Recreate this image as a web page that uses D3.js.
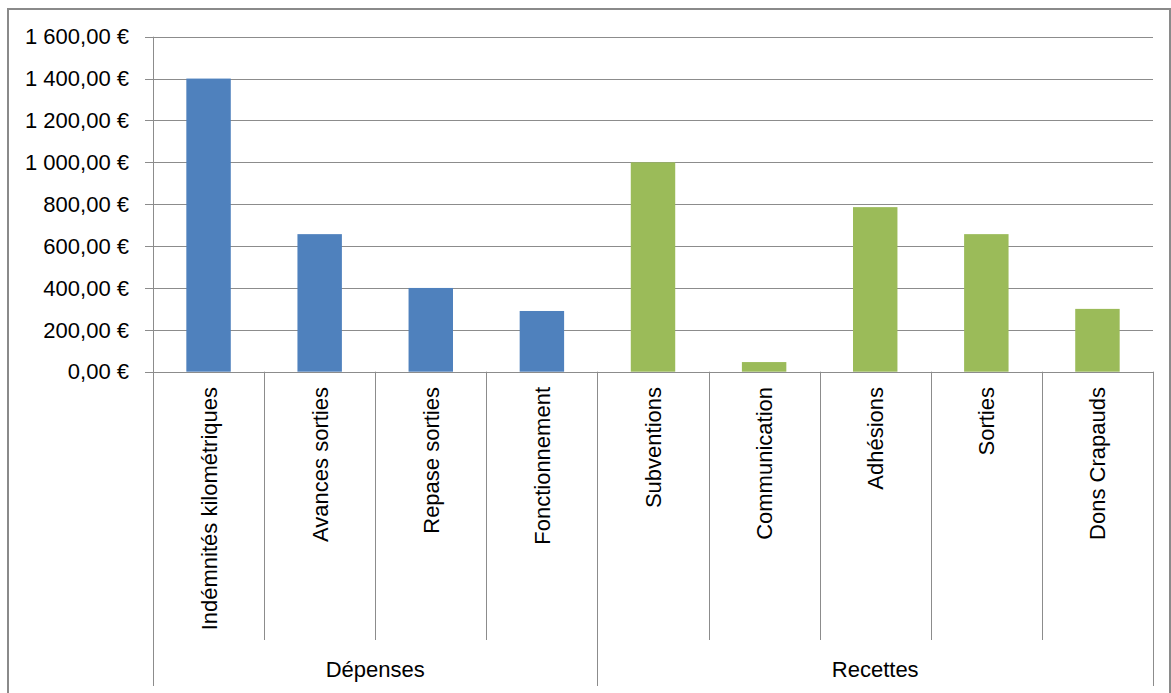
<!DOCTYPE html>
<html>
<head>
<meta charset="utf-8">
<script src="https://cdn.jsdelivr.net/npm/d3@7"></script>
<style>
  body { margin: 0; background: #fff; }
  text { font-family: "Liberation Sans", Arial, sans-serif; fill: #000; }
</style>
</head>
<body>
<div class="chart"></div>
<script>
// categories grouped under two headings
const categories = ["Indémnités kilométriques", "Avances sorties", "Repase sorties", "Fonctionnement",
    "Subventions", "Communication", "Adhésions", "Sorties", "Dons Crapauds"];
const groups = ["Dépenses", "Dépenses", "Dépenses", "Dépenses",
    "Recettes", "Recettes", "Recettes", "Recettes", "Recettes"];
const values = [1400, 657, 400, 290, 1000, 46, 786, 657, 300];
const yTicks = [0, 200, 400, 600, 800, 1000, 1200, 1400, 1600];

const width = 1171, height = 693;
const plotLeft = 153, plotRight = 1153, plotTop = 36.7, plotZero = 371.7;
const fontSize = 22;

const svg = d3.select(".chart").append("svg")
    .attr("width", width)
    .attr("height", height);

// outer chart frame
svg.append("rect")
    .attr("x", 8).attr("y", 9)
    .attr("width", 1162).attr("height", 700)
    .attr("fill", "white")
    .attr("stroke", "#8a8a8a")
    .attr("stroke-width", 2);

const x = d3.scaleBand()
    .domain(categories)
    .range([plotLeft, plotRight])
    .paddingInner(0)
    .paddingOuter(0);

const y = d3.scaleLinear()
    .domain([0, 1600])
    .range([plotZero, plotTop]);

const euro = (v) => {
    const s = d3.format(",.2f")(v);
    return s.replace(/,/g, " ").replace(".", ",") + " €";
};

//gridlines
svg.append("g")
    .selectAll("line")
    .data(yTicks)
    .enter().append("line")
    .attr("x1", plotLeft - 8)
    .attr("x2", plotRight)
    .attr("y1", d => Math.round(y(d)) + 0.5)
    .attr("y2", d => Math.round(y(d)) + 0.5)
    .attr("stroke", "#8c8c8c")
    .attr("stroke-width", 1);

svg.append("g")
    .selectAll("text")
    .data(yTicks)
    .enter().append("text")
    .attr("x", 129)
    .attr("y", d => y(d))
    .attr("dy", "0.35em")
    .attr("text-anchor", "end")
    .attr("font-size", fontSize)
    .text(euro);

// bars
const barW = x.bandwidth() * 0.4;
svg.append("g")
    .selectAll("rect")
    .data(values)
    .enter().append("rect")
    .attr("x", (d, i) => x(categories[i]) + (x.bandwidth() - barW) / 2)
    .attr("y", d => y(d))
    .attr("width", barW)
    .attr("height", d => plotZero - y(d))
    .attr("fill", (d, i) => groups[i] === "Dépenses" ? "#4f81bd" : "#9bbb59");

// vertical axis line
svg.append("line")
    .attr("x1", plotLeft + 0.5).attr("x2", plotLeft + 0.5)
    .attr("y1", plotTop).attr("y2", 686)
    .attr("stroke", "#8c8c8c");

// category separators, longer where the group changes
svg.append("g")
    .selectAll("line")
    .data(categories.slice(1))
    .enter().append("line")
    .attr("x1", d => Math.round(x(d)) + 0.5)
    .attr("x2", d => Math.round(x(d)) + 0.5)
    .attr("y1", plotZero)
    .attr("y2", d => groups[categories.indexOf(d)] !== groups[categories.indexOf(d) - 1] ? 686 : 640)
    .attr("stroke", "#8c8c8c");

svg.append("line")
    .attr("x1", plotRight + 0.5).attr("x2", plotRight + 0.5)
    .attr("y1", plotZero).attr("y2", 686)
    .attr("stroke", "#8c8c8c");

// rotated category labels
svg.append("g")
    .selectAll("text")
    .data(categories)
    .enter().append("text")
    .attr("transform", d => `translate(${x(d) + x.bandwidth() / 2 + 8}, 387) rotate(-90)`)
    .attr("text-anchor", "end")
    .attr("font-size", fontSize)
    .text(d => d);

// group labels
const groupNames = Array.from(new Set(groups));
svg.append("g")
    .selectAll("text")
    .data(groupNames)
    .enter().append("text")
    .attr("x", g => {
        const members = categories.filter((c, i) => groups[i] === g);
        return (x(members[0]) + x(members[members.length - 1]) + x.bandwidth()) / 2;
    })
    .attr("y", 677)
    .attr("text-anchor", "middle")
    .attr("font-size", fontSize)
    .text(g => g);
</script>
</body>
</html>
